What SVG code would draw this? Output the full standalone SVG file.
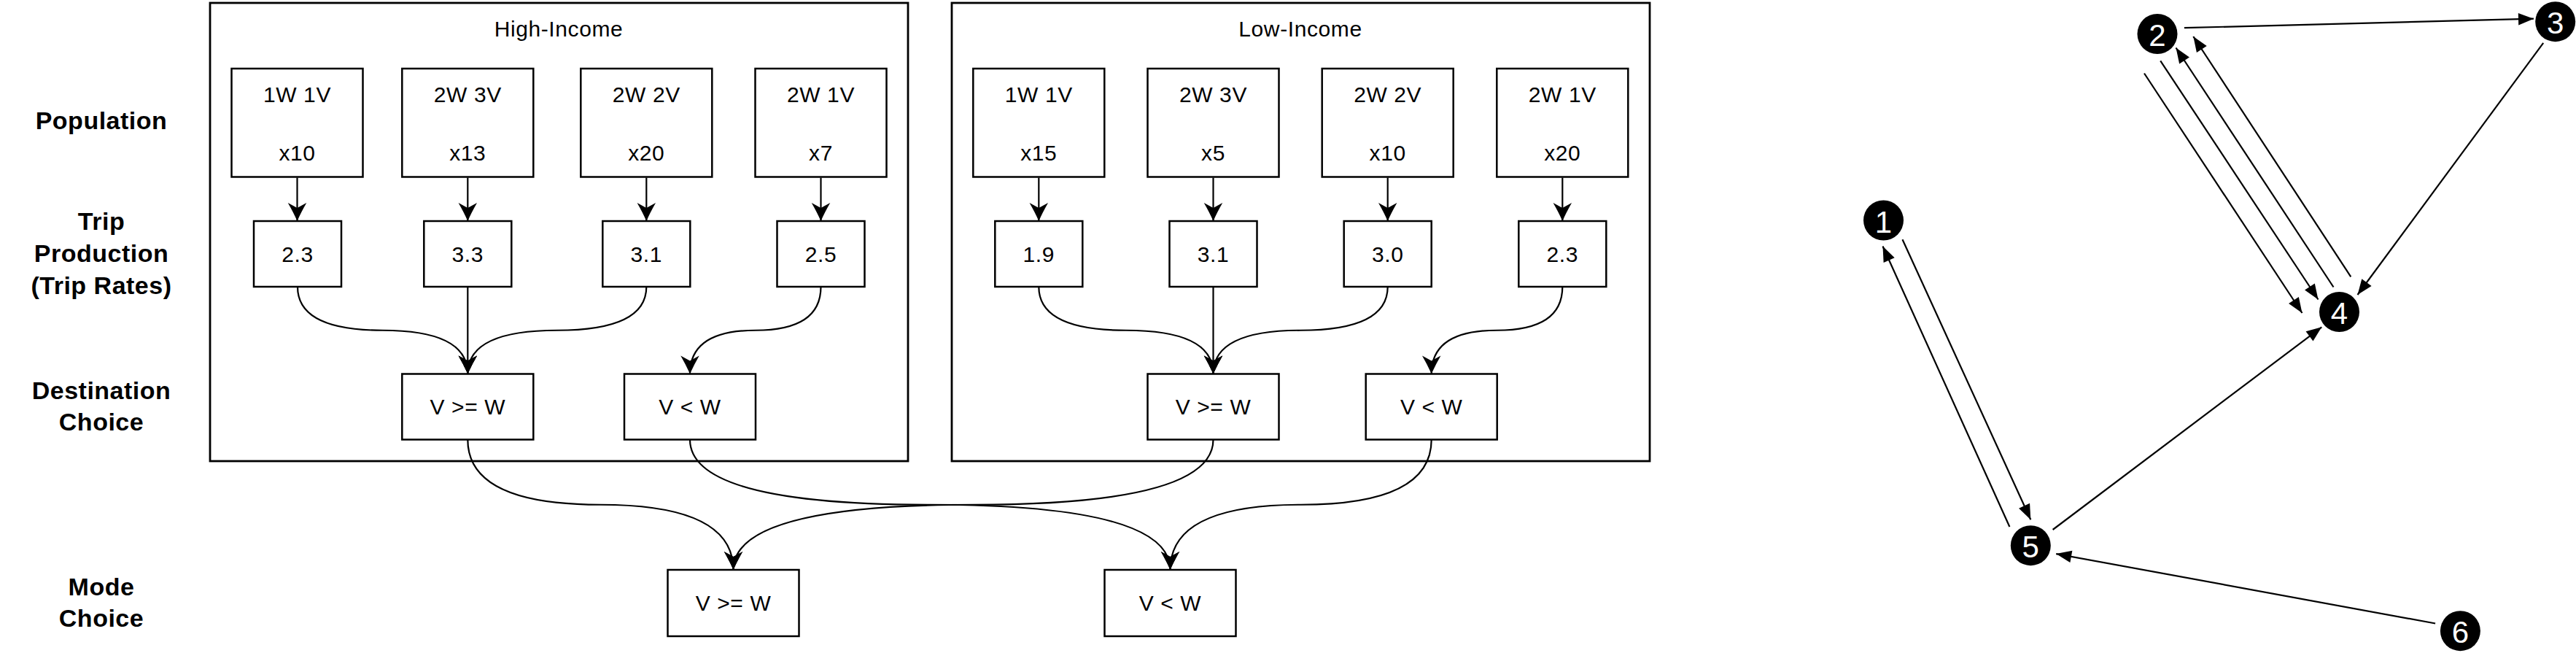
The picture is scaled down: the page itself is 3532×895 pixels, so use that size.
<svg xmlns="http://www.w3.org/2000/svg" width="3532" height="895" viewBox="0 0 3532 895">
<style>
text{font-family:"Liberation Sans",Arial,Helvetica,sans-serif;fill:#000;text-anchor:middle}
.t{font-size:30px;letter-spacing:0.6px}
.lbl{font-size:34px;font-weight:bold;letter-spacing:0.5px}
.box{fill:#fff;stroke:#000;stroke-width:2.5}
.grp{fill:none;stroke:#000;stroke-width:2.8}
.c{fill:none;stroke:#000;stroke-width:2.2}
.g{fill:none;stroke:#000;stroke-width:2.2}
.nd{fill:#000}
.num{font-size:42px;fill:#fff}
</style>
<defs>
<marker id="ah" markerUnits="userSpaceOnUse" markerWidth="30" markerHeight="30" refX="25" refY="12.75" orient="auto" overflow="visible">
<path d="M0,0 Q14,8 25,12.75 Q14,17.5 0,25.5 L7,12.75 Z" fill="#000"/>
</marker>
<marker id="tri" markerUnits="userSpaceOnUse" markerWidth="24" markerHeight="20" refX="21" refY="8.25" orient="auto" overflow="visible">
<path d="M0,0 L21,8.25 L0,16.5 Z" fill="#000"/>
</marker>
</defs>
<rect width="3532" height="895" fill="#fff"/>

<g id="row-labels">
<text class="lbl" x="139" y="177">Population</text>
<text class="lbl" x="139" y="315">Trip</text>
<text class="lbl" x="139" y="359">Production</text>
<text class="lbl" x="139" y="403">(Trip Rates)</text>
<text class="lbl" x="139" y="547">Destination</text>
<text class="lbl" x="139" y="590">Choice</text>
<text class="lbl" x="139" y="816">Mode</text>
<text class="lbl" x="139" y="859">Choice</text>
</g>

<g id="high-income">
<rect class="grp" x="288" y="4" width="957" height="628"/>
<text class="t" x="766" y="50">High-Income</text>
</g>
<g id="low-income">
<rect class="grp" x="1305" y="4" width="957" height="628"/>
<text class="t" x="1783" y="50">Low-Income</text>
</g>

<g id="connectors">
<path class="c" marker-end="url(#ah)" d="M407.5,243.5 L407.5,303"/>
<path class="c" marker-end="url(#ah)" d="M641.3,243.5 L641.3,303"/>
<path class="c" marker-end="url(#ah)" d="M886.3,243.5 L886.3,303"/>
<path class="c" marker-end="url(#ah)" d="M1125.5,243.5 L1125.5,303"/>
<path class="c" marker-end="url(#ah)" d="M1424.3,243.5 L1424.3,303"/>
<path class="c" marker-end="url(#ah)" d="M1663.5,243.5 L1663.5,303"/>
<path class="c" marker-end="url(#ah)" d="M1902.7,243.5 L1902.7,303"/>
<path class="c" marker-end="url(#ah)" d="M2142.3,243.5 L2142.3,303"/>

<path class="c" marker-end="url(#ah)" d="M408,393 Q408,452.75 524.6,452.75 Q641.3,452.75 641.3,512.5"/>
<path class="c" marker-end="url(#ah)" d="M641.3,393 L641.3,512.5"/>
<path class="c" marker-end="url(#ah)" d="M886.3,393 Q886.3,452.75 763.8,452.75 Q641.3,452.75 641.3,512.5"/>
<path class="c" marker-end="url(#ah)" d="M1125.5,393 Q1125.5,452.75 1035.75,452.75 Q946,452.75 946,512.5"/>
<path class="c" marker-end="url(#ah)" d="M1424.3,393 Q1424.3,452.75 1543.9,452.75 Q1663.5,452.75 1663.5,512.5"/>
<path class="c" marker-end="url(#ah)" d="M1663.5,393 L1663.5,512.5"/>
<path class="c" marker-end="url(#ah)" d="M1902.7,393 Q1902.7,452.75 1783.1,452.75 Q1663.5,452.75 1663.5,512.5"/>
<path class="c" marker-end="url(#ah)" d="M2142.3,393 Q2142.3,452.75 2052.5,452.75 Q1962.7,452.75 1962.7,512.5"/>

<path class="c" marker-end="url(#ah)" d="M641.3,602.5 Q641.3,691.75 823.4,691.75 Q1005.5,691.75 1005.5,781"/>
<path class="c" marker-end="url(#ah)" d="M946,602.5 Q946,691.75 1275.25,691.75 Q1604.5,691.75 1604.5,781"/>
<path class="c" marker-end="url(#ah)" d="M1663.5,602.5 Q1663.5,691.75 1334.5,691.75 Q1005.5,691.75 1005.5,781"/>
<path class="c" marker-end="url(#ah)" d="M1962.7,602.5 Q1962.7,691.75 1783.6,691.75 Q1604.5,691.75 1604.5,781"/>

<line class="g" marker-end="url(#tri)" x1="2994.9" y1="38.2" x2="3474" y2="25.7"/>
<line class="g" marker-end="url(#tri)" x1="3487.2" y1="58.8" x2="3232.5" y2="404"/>
<line class="g" marker-end="url(#tri)" x1="2940" y1="100.5" x2="3156.5" y2="429"/>
<line class="g" marker-end="url(#tri)" x1="2962.2" y1="83.3" x2="3178.5" y2="410.5"/>
<line class="g" marker-end="url(#tri)" x1="3199.5" y1="393.5" x2="2983.5" y2="65.5"/>
<line class="g" marker-end="url(#tri)" x1="3223.3" y1="379.3" x2="3007.3" y2="50"/>
<line class="g" marker-end="url(#tri)" x1="2814.6" y1="726" x2="3183.3" y2="448.3"/>
<line class="g" marker-end="url(#tri)" x1="2608.5" y1="328.3" x2="2784.3" y2="712.3"/>
<line class="g" marker-end="url(#tri)" x1="2755.4" y1="722" x2="2581.5" y2="337.5"/>
<line class="g" marker-end="url(#tri)" x1="3339.1" y1="854.5" x2="2819.2" y2="759.1"/>
</g>

<g id="hi-pop-1"><rect class="box" x="317.5" y="94" width="180" height="148.5"/><text class="t" x="407.5" y="139.5">1W 1V</text><text class="t" x="407.5" y="219.5">x10</text></g>
<g id="hi-pop-2"><rect class="box" x="551.3" y="94" width="180" height="148.5"/><text class="t" x="641.3" y="139.5">2W 3V</text><text class="t" x="641.3" y="219.5">x13</text></g>
<g id="hi-pop-3"><rect class="box" x="796.3" y="94" width="180" height="148.5"/><text class="t" x="886.3" y="139.5">2W 2V</text><text class="t" x="886.3" y="219.5">x20</text></g>
<g id="hi-pop-4"><rect class="box" x="1035.5" y="94" width="180" height="148.5"/><text class="t" x="1125.5" y="139.5">2W 1V</text><text class="t" x="1125.5" y="219.5">x7</text></g>

<g id="hi-trip-1"><rect class="box" x="348" y="303" width="120" height="90"/><text class="t" x="408" y="358.5">2.3</text></g>
<g id="hi-trip-2"><rect class="box" x="581.3" y="303" width="120" height="90"/><text class="t" x="641.3" y="358.5">3.3</text></g>
<g id="hi-trip-3"><rect class="box" x="826.3" y="303" width="120" height="90"/><text class="t" x="886.3" y="358.5">3.1</text></g>
<g id="hi-trip-4"><rect class="box" x="1065.5" y="303" width="120" height="90"/><text class="t" x="1125.5" y="358.5">2.5</text></g>

<g id="hi-dest-1"><rect class="box" x="551.3" y="512.5" width="180" height="90"/><text class="t" x="641.3" y="568">V &gt;= W</text></g>
<g id="hi-dest-2"><rect class="box" x="856" y="512.5" width="180" height="90"/><text class="t" x="946" y="568">V &lt; W</text></g>

<g id="li-pop-1"><rect class="box" x="1334.3" y="94" width="180" height="148.5"/><text class="t" x="1424.3" y="139.5">1W 1V</text><text class="t" x="1424.3" y="219.5">x15</text></g>
<g id="li-pop-2"><rect class="box" x="1573.5" y="94" width="180" height="148.5"/><text class="t" x="1663.5" y="139.5">2W 3V</text><text class="t" x="1663.5" y="219.5">x5</text></g>
<g id="li-pop-3"><rect class="box" x="1812.7" y="94" width="180" height="148.5"/><text class="t" x="1902.7" y="139.5">2W 2V</text><text class="t" x="1902.7" y="219.5">x10</text></g>
<g id="li-pop-4"><rect class="box" x="2052.3" y="94" width="180" height="148.5"/><text class="t" x="2142.3" y="139.5">2W 1V</text><text class="t" x="2142.3" y="219.5">x20</text></g>

<g id="li-trip-1"><rect class="box" x="1364.3" y="303" width="120" height="90"/><text class="t" x="1424.3" y="358.5">1.9</text></g>
<g id="li-trip-2"><rect class="box" x="1603.5" y="303" width="120" height="90"/><text class="t" x="1663.5" y="358.5">3.1</text></g>
<g id="li-trip-3"><rect class="box" x="1842.7" y="303" width="120" height="90"/><text class="t" x="1902.7" y="358.5">3.0</text></g>
<g id="li-trip-4"><rect class="box" x="2082.3" y="303" width="120" height="90"/><text class="t" x="2142.3" y="358.5">2.3</text></g>

<g id="li-dest-1"><rect class="box" x="1573.5" y="512.5" width="180" height="90"/><text class="t" x="1663.5" y="568">V &gt;= W</text></g>
<g id="li-dest-2"><rect class="box" x="1872.7" y="512.5" width="180" height="90"/><text class="t" x="1962.7" y="568">V &lt; W</text></g>

<g id="mode-1"><rect class="box" x="915.5" y="781" width="180" height="91"/><text class="t" x="1005.5" y="837">V &gt;= W</text></g>
<g id="mode-2"><rect class="box" x="1514.5" y="781" width="180" height="91"/><text class="t" x="1604.5" y="837">V &lt; W</text></g>

<g id="node-1"><circle class="nd" cx="2582.5" cy="302" r="27.5"/><text class="num" x="2582.5" y="318.5">1</text></g>
<g id="node-2"><circle class="nd" cx="2958" cy="46.5" r="27.5"/><text class="num" x="2958" y="63">2</text></g>
<g id="node-3"><circle class="nd" cx="3503.7" cy="29.7" r="27.5"/><text class="num" x="3503.7" y="46.2">3</text></g>
<g id="node-4"><circle class="nd" cx="3207.5" cy="427.5" r="27.5"/><text class="num" x="3207.5" y="444">4</text></g>
<g id="node-5"><circle class="nd" cx="2784.3" cy="747.7" r="27.5"/><text class="num" x="2784.3" y="764.2">5</text></g>
<g id="node-6"><circle class="nd" cx="3373.4" cy="864.7" r="27.5"/><text class="num" x="3373.4" y="881.2">6</text></g>
</svg>
